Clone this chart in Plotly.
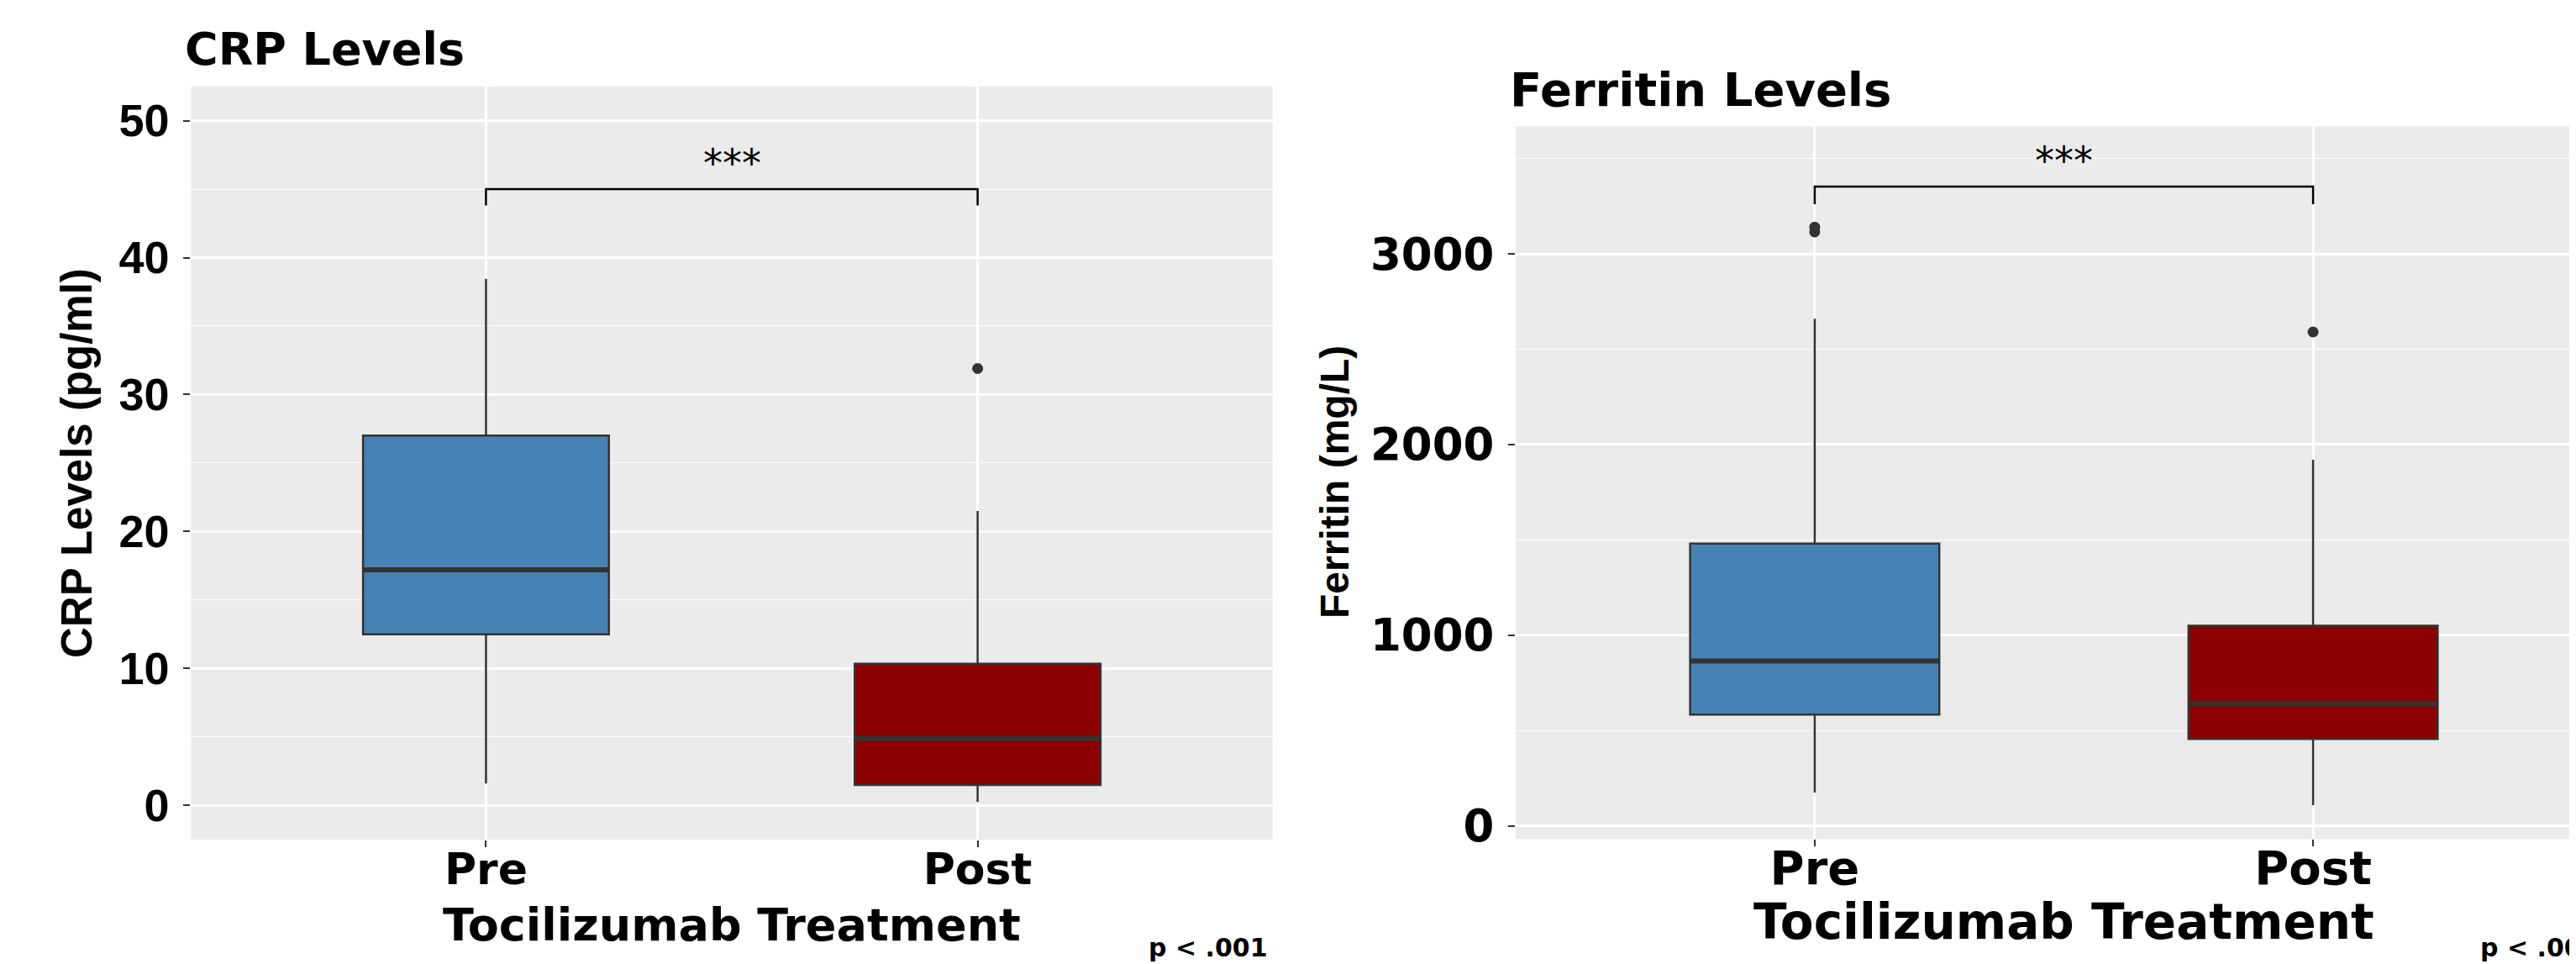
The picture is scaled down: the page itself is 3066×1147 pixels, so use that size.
import plotly.graph_objects as go

# ---------------- data ----------------
categories = ["Pre", "Post"]
positions = [1, 2]

crp_q1 = [12.5, 1.5]
crp_median = [17.2, 4.9]
crp_q3 = [27.0, 10.35]
crp_lower = [1.6, 0.25]
crp_upper = [38.45, 21.5]
crp_outlier_x = ["Post"]
crp_outlier_y = [31.9]
crp_ticks = [0, 10, 20, 30, 40, 50]

fer_q1 = [583, 456]
fer_median = [864, 641]
fer_q3 = [1480, 1049]
fer_lower = [175, 108]
fer_upper = [2660, 1920]
fer_outlier_x = ["Pre", "Pre", "Post"]
fer_outlier_y = [3140, 3115, 2590]
fer_ticks = [0, 1000, 2000, 3000]

crp_bracket = [43.8, 45.0]
fer_bracket = [3260, 3353]
crp_star_y = 46.9
fer_star_y = 3490
sig_label = "***"
p_label = "p < .001"

colors = ["#4682B4", "#8B0000"]
OUT = "#333333"
W, H = 3066, 1147
BOXW = 0.5

pos_of = dict(zip(categories, positions))

fig = go.Figure()


def add_panel(xa, ya, q1, med, q3, lo, up, ox, oy, bracket, star_y):
    for i, cat in enumerate(categories):
        p = positions[i]
        fig.add_trace(go.Box(
            x=[p], q1=[q1[i]], median=[med[i]], q3=[q3[i]],
            lowerfence=[lo[i]], upperfence=[up[i]],
            width=BOXW, fillcolor=colors[i],
            line=dict(color=OUT, width=2.5), whiskerwidth=0,
            boxpoints=False, showlegend=False, hoverinfo="skip",
            xaxis=xa, yaxis=ya))
        # thicker median line (ggplot style)
        fig.add_trace(go.Scatter(
            x=[p - BOXW / 2, p + BOXW / 2], y=[med[i], med[i]],
            mode="lines", line=dict(color=OUT, width=6),
            showlegend=False, hoverinfo="skip", xaxis=xa, yaxis=ya))
    fig.add_trace(go.Scatter(
        x=[pos_of[c] for c in ox], y=oy, mode="markers",
        marker=dict(color=OUT, size=13), showlegend=False,
        hoverinfo="skip", xaxis=xa, yaxis=ya))
    fig.add_trace(go.Scatter(
        x=[positions[0], positions[0], positions[1], positions[1]],
        y=[bracket[0], bracket[1], bracket[1], bracket[0]],
        mode="lines", line=dict(color="black", width=2.5),
        showlegend=False, hoverinfo="skip", xaxis=xa, yaxis=ya))
    fig.add_annotation(x=(positions[0] + positions[1]) / 2, y=star_y,
                       xref=xa, yref=ya, text=sig_label, showarrow=False,
                       font=dict(family="DejaVu Sans", size=46, color="black"),
                       xanchor="center", yanchor="middle")


add_panel("x", "y", crp_q1, crp_median, crp_q3, crp_lower, crp_upper,
          crp_outlier_x, crp_outlier_y, crp_bracket, crp_star_y)
add_panel("x2", "y2", fer_q1, fer_median, fer_q3, fer_lower, fer_upper,
          fer_outlier_x, fer_outlier_y, fer_bracket, fer_star_y)


def px_x(v):
    return v / W


def px_y(v):
    return 1 - v / H


common_x = dict(tickmode="array", tickvals=positions, ticktext=categories,
                showgrid=True, gridcolor="white", gridwidth=2.5,
                zeroline=False, showline=False, ticks="outside", ticklen=8,
                tickwidth=2, tickcolor=OUT)
common_y = dict(showgrid=True, gridcolor="white", gridwidth=2.5,
                zeroline=False, showline=False, ticks="outside", ticklen=8,
                tickwidth=2, tickcolor=OUT, ticklabelstandoff=6)

fig.update_layout(
    width=W, height=H,
    margin=dict(l=0, r=0, t=0, b=0),
    paper_bgcolor="white", plot_bgcolor="#EBEBEB",
    showlegend=False,
    xaxis=dict(domain=[px_x(219.3), px_x(1506.7)], range=[0.4, 2.6],
               anchor="y", ticklabelstandoff=-18,
               tickfont=dict(family="DejaVu Sans", size=52, color="black", weight="bold"),
               **common_x),
    yaxis=dict(domain=[px_y(1003.3), px_y(96)], range=[-2.5, 52.5],
               anchor="x", tickmode="array", tickvals=crp_ticks,
               minor=dict(dtick=5, showgrid=True, gridcolor="white", gridwidth=1.2, ticks=""),
               tickfont=dict(family="Liberation Sans", size=54, color="black", weight="bold"),
               **common_y),
    xaxis2=dict(domain=[px_x(1796), 1.0], range=[0.4, 2.541],
                anchor="y2", ticklabelstandoff=-23,
                tickfont=dict(family="DejaVu Sans", size=56, color="black", weight="bold"),
                **common_x),
    yaxis2=dict(domain=[px_y(1002.7), px_y(144)], range=[-70, 3669],
                anchor="x2", tickmode="array", tickvals=fer_ticks,
                minor=dict(dtick=500, showgrid=True, gridcolor="white", gridwidth=1.2, ticks=""),
                tickfont=dict(family="DejaVu Sans", size=53, color="black", weight="bold"),
                **common_y),
)

bold = dict(color="black", weight="bold")
texts = [
    ("CRP Levels", px_x(210), px_y(51), "left", 0, "DejaVu Sans", 54),
    ("Ferritin Levels", px_x(1787), px_y(100), "left", 0, "DejaVu Sans", 56),
    ("Tocilizumab Treatment", px_x(863), px_y(1106), "center", 0, "DejaVu Sans", 54),
    ("Tocilizumab Treatment", px_x(2448.5), px_y(1102), "center", 0, "DejaVu Sans", 58),
    ("CRP Levels (pg/ml)", px_x(84), px_y(549.7), "center", -90, "Liberation Sans", 51),
    ("Ferritin (mg/L)", px_x(1580), px_y(573), "center", -90, "Liberation Sans", 48),
    (p_label, px_x(1503), px_y(1133), "right", 0, "DejaVu Sans", 30),
    (p_label, px_x(2942), px_y(1133), "left", 0, "DejaVu Sans", 30),
]
for t, x, y, xa, ang, fam, sz in texts:
    fig.add_annotation(x=x, y=y, xref="paper", yref="paper", text=t,
                       showarrow=False, xanchor=xa, yanchor="middle",
                       textangle=ang, font=dict(family=fam, size=sz, **bold))

fig.write_html("out.html")
